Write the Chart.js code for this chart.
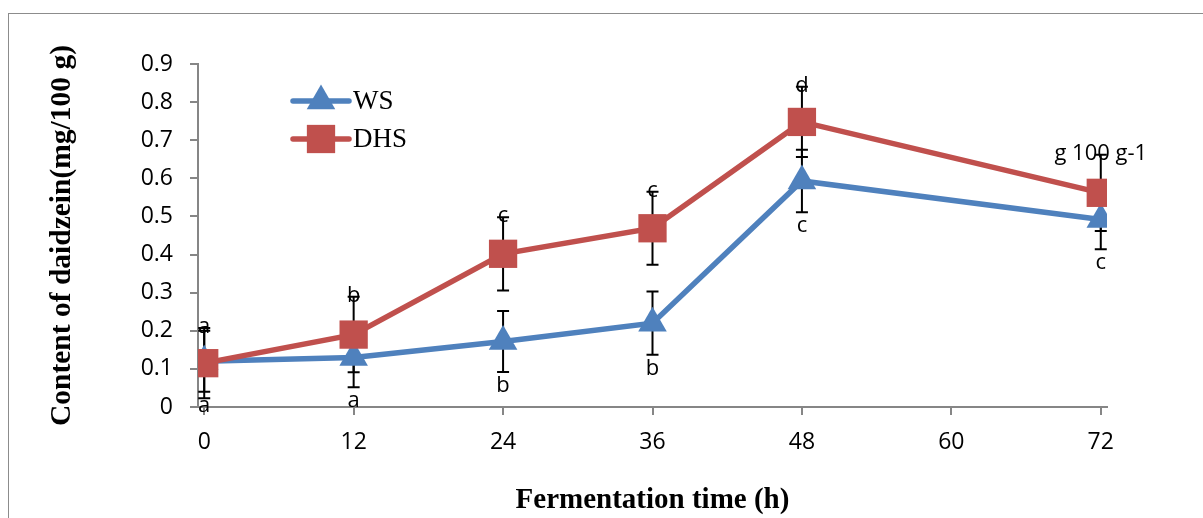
<!DOCTYPE html>
<html>
<head>
<meta charset="utf-8">
<script src="https://cdn.jsdelivr.net/npm/chart.js@4/dist/chart.umd.min.js"></script>
<style>
	html, body { margin: 0; padding: 0; background: #fff; }
	#wrap { position: relative; width: 1203px; height: 518px; overflow: hidden; }
	#frame {
		position: absolute; left: 8px; top: 13px; width: 1300px; height: 600px;
		border-left: 1.5px solid #8c8c8c; border-top: 1.5px solid #8c8c8c;
	}
	#chart { position: absolute; left: 0; top: 0; }
</style>
</head>
<body>
<div id="wrap">
	<div id="frame"></div>
	<canvas id="chart" width="1203" height="518"></canvas>
</div>
<script>
// fermentation time (h)
const hours = [0, 12, 24, 36, 48, 72];
const xTicks = [0, 12, 24, 36, 48, 60, 72];
const yTicks = [0, 0.1, 0.2, 0.3, 0.4, 0.5, 0.6, 0.7, 0.8, 0.9];

// daidzein content, mg/100 g
const wsValues = [0.12, 0.13, 0.172, 0.22, 0.593, 0.492];
const wsErrors = [0.08, 0.078, 0.08, 0.083, 0.082, 0.078];
const dhsValues = [0.115, 0.19, 0.402, 0.469, 0.748, 0.562];
const dhsErrors = [0.092, 0.099, 0.096, 0.096, 0.092, 0.1];

// significance letters
const wsLetters = ['a', 'a', 'b', 'b', 'c', 'c'];
const dhsLetters = ['a', 'b', 'c', 'c', 'd', 'g 100 g-1'];

const BLUE = '#4f81bd';
const RED = '#c0504d';
const AXIS = '#868686';
const TICK_FONT = { family: '"Open Sans", sans-serif', size: 23 };
const SERIF = '"Liberation Serif", "Times New Roman", serif';

function toPoints(values) {
	return hours.map((h, i) => ({ x: h, y: values[i] }));
}

// error bars, drawn under the markers
const errorBars = {
	id: 'errorBars',
	beforeDatasetsDraw(chart) {
		const { ctx, scales: { x, y } } = chart;
		const sets = [[wsValues, wsErrors], [dhsValues, dhsErrors]];
		ctx.save();
		ctx.strokeStyle = '#000';
		ctx.lineWidth = 2;
		sets.forEach(([vals, errs]) => {
			vals.forEach((v, i) => {
				const px = x.getPixelForValue(hours[i]);
				const top = y.getPixelForValue(v + errs[i]);
				const bot = y.getPixelForValue(v - errs[i]);
				ctx.beginPath();
				ctx.moveTo(px, top); ctx.lineTo(px, bot);
				ctx.moveTo(px - 6, top); ctx.lineTo(px + 6, top);
				ctx.moveTo(px - 6, bot); ctx.lineTo(px + 6, bot);
				ctx.stroke();
			});
		});
		ctx.restore();
	}
};

// letters sitting on the error-bar caps
const letters = {
	id: 'letters',
	afterDatasetsDraw(chart) {
		const { ctx, scales: { x, y } } = chart;
		ctx.save();
		ctx.fillStyle = '#000';
		ctx.font = '22px "Open Sans", sans-serif';
		ctx.textAlign = 'center';
		ctx.textBaseline = 'alphabetic';
		dhsLetters.forEach((t, i) => {
			const px = x.getPixelForValue(hours[i]);
			const cap = y.getPixelForValue(dhsValues[i] + dhsErrors[i]);
			ctx.fillText(t, px, cap + 5);
		});
		wsLetters.forEach((t, i) => {
			const px = x.getPixelForValue(hours[i]);
			const cap = y.getPixelForValue(wsValues[i] - wsErrors[i]);
			ctx.fillText(t, px, cap + 20);
		});
		ctx.restore();
	}
};

// legend inside the plot: line + marker + serif label
const insideLegend = {
	id: 'insideLegend',
	afterDraw(chart) {
		const { ctx } = chart;
		const x0 = 293, x1 = 349, ys = [101, 139];
		ctx.save();
		chart.data.datasets.forEach((ds, i) => {
			const yy = ys[i];
			ctx.strokeStyle = ds.borderColor;
			ctx.lineWidth = ds.borderWidth;
			ctx.lineCap = 'round';
			ctx.beginPath();
			ctx.moveTo(x0, yy); ctx.lineTo(x1, yy);
			ctx.stroke();
			ctx.fillStyle = ds.pointBackgroundColor;
			Chart.helpers.drawPoint(ctx, {
				pointStyle: ds.pointStyle,
				radius: ds.pointRadius,
				rotation: 0,
				borderWidth: 0
			}, (x0 + x1) / 2, yy);
			ctx.fillStyle = '#000';
			ctx.font = '27px ' + SERIF;
			ctx.textAlign = 'left';
			ctx.textBaseline = 'middle';
			ctx.fillText(ds.label, x1 + 4, yy + 1);
		});
		ctx.restore();
	}
};

new Chart(document.getElementById('chart'), {
	type: 'line',
	data: {
		datasets: [
			{
				label: 'WS',
				data: toPoints(wsValues),
				order: 1,
				borderColor: BLUE,
				backgroundColor: BLUE,
				pointBackgroundColor: BLUE,
				pointBorderColor: BLUE,
				pointBorderWidth: 0,
				pointStyle: 'triangle',
				pointRadius: 16.5,
				borderWidth: 5.5
			},
			{
				label: 'DHS',
				data: toPoints(dhsValues),
				order: 0,
				borderColor: RED,
				backgroundColor: RED,
				pointBackgroundColor: RED,
				pointBorderColor: RED,
				pointBorderWidth: 0,
				pointStyle: 'rect',
				pointRadius: 20,
				borderWidth: 5.5
			}
		]
	},
	options: {
		responsive: false,
		animation: false,
		events: [],
		layout: { padding: { left: 0, top: 64, right: 96, bottom: 0 } },
		plugins: {
			legend: { display: false },
			tooltip: { enabled: false }
		},
		scales: {
			x: {
				type: 'linear',
				min: -0.5,
				max: 72.5,
				afterBuildTicks: scale => { scale.ticks = xTicks.map(v => ({ value: v })); },
				afterFit: scale => { scale.height = 111; },
				grid: { drawOnChartArea: false, color: AXIS, lineWidth: 2, tickLength: 8 },
				border: { color: AXIS, width: 2 },
				ticks: { color: '#000', font: TICK_FONT, padding: 14, maxRotation: 0 },
				title: {
					display: true,
					text: 'Fermentation time (h)',
					color: '#000',
					font: { family: SERIF, size: 29, weight: 'bold' },
					padding: { top: 0, bottom: 0 }
				}
			},
			y: {
				min: 0,
				max: 0.9,
				afterBuildTicks: scale => { scale.ticks = yTicks.map(v => ({ value: v })); },
				afterFit: scale => { scale.width = 198; },
				grid: { drawOnChartArea: false, color: AXIS, lineWidth: 2, tickLength: 8 },
				border: { color: AXIS, width: 2 },
				ticks: {
					color: '#000',
					font: TICK_FONT,
					padding: 17,
					callback: v => (v === 0 ? '0' : v.toFixed(1))
				},
				title: {
					display: true,
					text: 'Content of daidzein(mg/100 g)',
					color: '#000',
					font: { family: SERIF, size: 29.5, weight: 'bold' },
					padding: { top: 45, bottom: 0 }
				}
			}
		}
	},
	plugins: [errorBars, letters, insideLegend]
});
</script>
</body>
</html>
